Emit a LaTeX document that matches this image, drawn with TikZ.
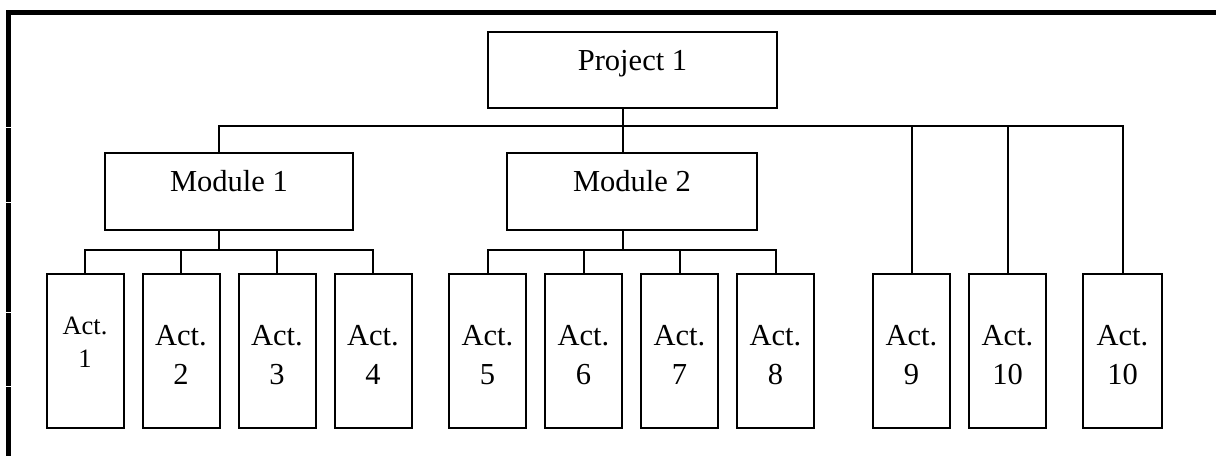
\documentclass[tikz,border=0pt]{standalone}
\usepackage{fontspec}
\setmainfont{Liberation Serif}
% one-line box text: baseline sits on the node centre
\newcommand\boxtext[2][0pt]{\raisebox{#1}[0pt][0pt]{#2}}
% two-line activity text: first baseline raised above the node centre
\newcommand\acttext[3][6pt]{\raisebox{#1}[0pt][0pt]{\begin{tabular}[t]{@{}c@{}}#2\\#3\end{tabular}}}
\begin{document}
\begin{tikzpicture}[x=1pt,y=-1pt,
  box/.style={draw, line width=2pt, inner sep=0pt,
    font=\fontsize{30.5}{39}\selectfont},
  actbox/.style={box, minimum width=77pt, minimum height=154pt},
  link/.style={line width=2pt},
  gap/.style={white, line width=0.8pt}]
\useasboundingbox (0,0) rectangle (1216,456);

% page frame (top and left rules)
\fill (6,10) rectangle (1216,15);
\fill (6,10) rectangle (11,456);
\foreach \y in {127,202,312,386}
  \draw[gap] (5,\y) -- (12,\y);

% project and modules
\node[box, minimum width=289pt, minimum height=76pt] (p) at (632.5,70) {\boxtext{Project 1}};
\node[box, minimum width=248pt, minimum height=77pt] (m1) at (229,191.5) {\boxtext{Module 1}};
\node[box, minimum width=250pt, minimum height=77pt] (m2) at (632,191.5) {\boxtext{Module 2}};

% activities
\node[actbox, font=\fontsize{26.5}{33}\selectfont] (a1) at (85,351) {\acttext[17pt]{Act.}{1}};
\node[actbox] (a2)  at (181,351)   {\acttext{Act.}{2}};
\node[actbox] (a3)  at (277,351)   {\acttext{Act.}{3}};
\node[actbox] (a4)  at (373,351)   {\acttext{Act.}{4}};
\node[actbox] (a5)  at (487.5,351) {\acttext{Act.}{5}};
\node[actbox] (a6)  at (583.5,351) {\acttext{Act.}{6}};
\node[actbox] (a7)  at (679.5,351) {\acttext{Act.}{7}};
\node[actbox] (a8)  at (775.5,351) {\acttext{Act.}{8}};
\node[actbox] (a9)  at (911.5,351) {\acttext{Act.}{9}};
\node[actbox] (a10) at (1007.5,351){\acttext{Act.}{10}};
\node[actbox, minimum width=79pt] (a11) at (1122.5,351){\acttext{Act.}{10}};

% junction points of the connector buses
\coordinate (pj)  at (623,126);
\coordinate (m1x) at (219,126);
\coordinate (m1j) at (219,250);
\coordinate (m2j) at (623,250);

% project level
\draw[link] (p.south -| pj) -- (pj);
\draw[link] (m1.north -| m1x) |- (pj) -| (a11.north);
\draw[link] (pj) -- (m2.north -| pj);
\draw[link] (a9.north) -- (a9.north |- pj);
\draw[link] (a10.north) -- (a10.north |- pj);

% module 1 level
\draw[link] (m1.south -| m1j) -- (m1j);
\draw[link] (a1.north) -- (a1.north |- m1j) -- (a4.north |- m1j) -- (a4.north);
\draw[link] (a2.north) -- (a2.north |- m1j);
\draw[link] (a3.north) -- (a3.north |- m1j);

% module 2 level
\draw[link] (m2.south -| m2j) -- (m2j);
\draw[link] (a5.north) -- (a5.north |- m2j) -- (a8.north |- m2j) -- (a8.north);
\draw[link] (a6.north) -- (a6.north |- m2j);
\draw[link] (a7.north) -- (a7.north |- m2j);
\end{tikzpicture}
\end{document}
